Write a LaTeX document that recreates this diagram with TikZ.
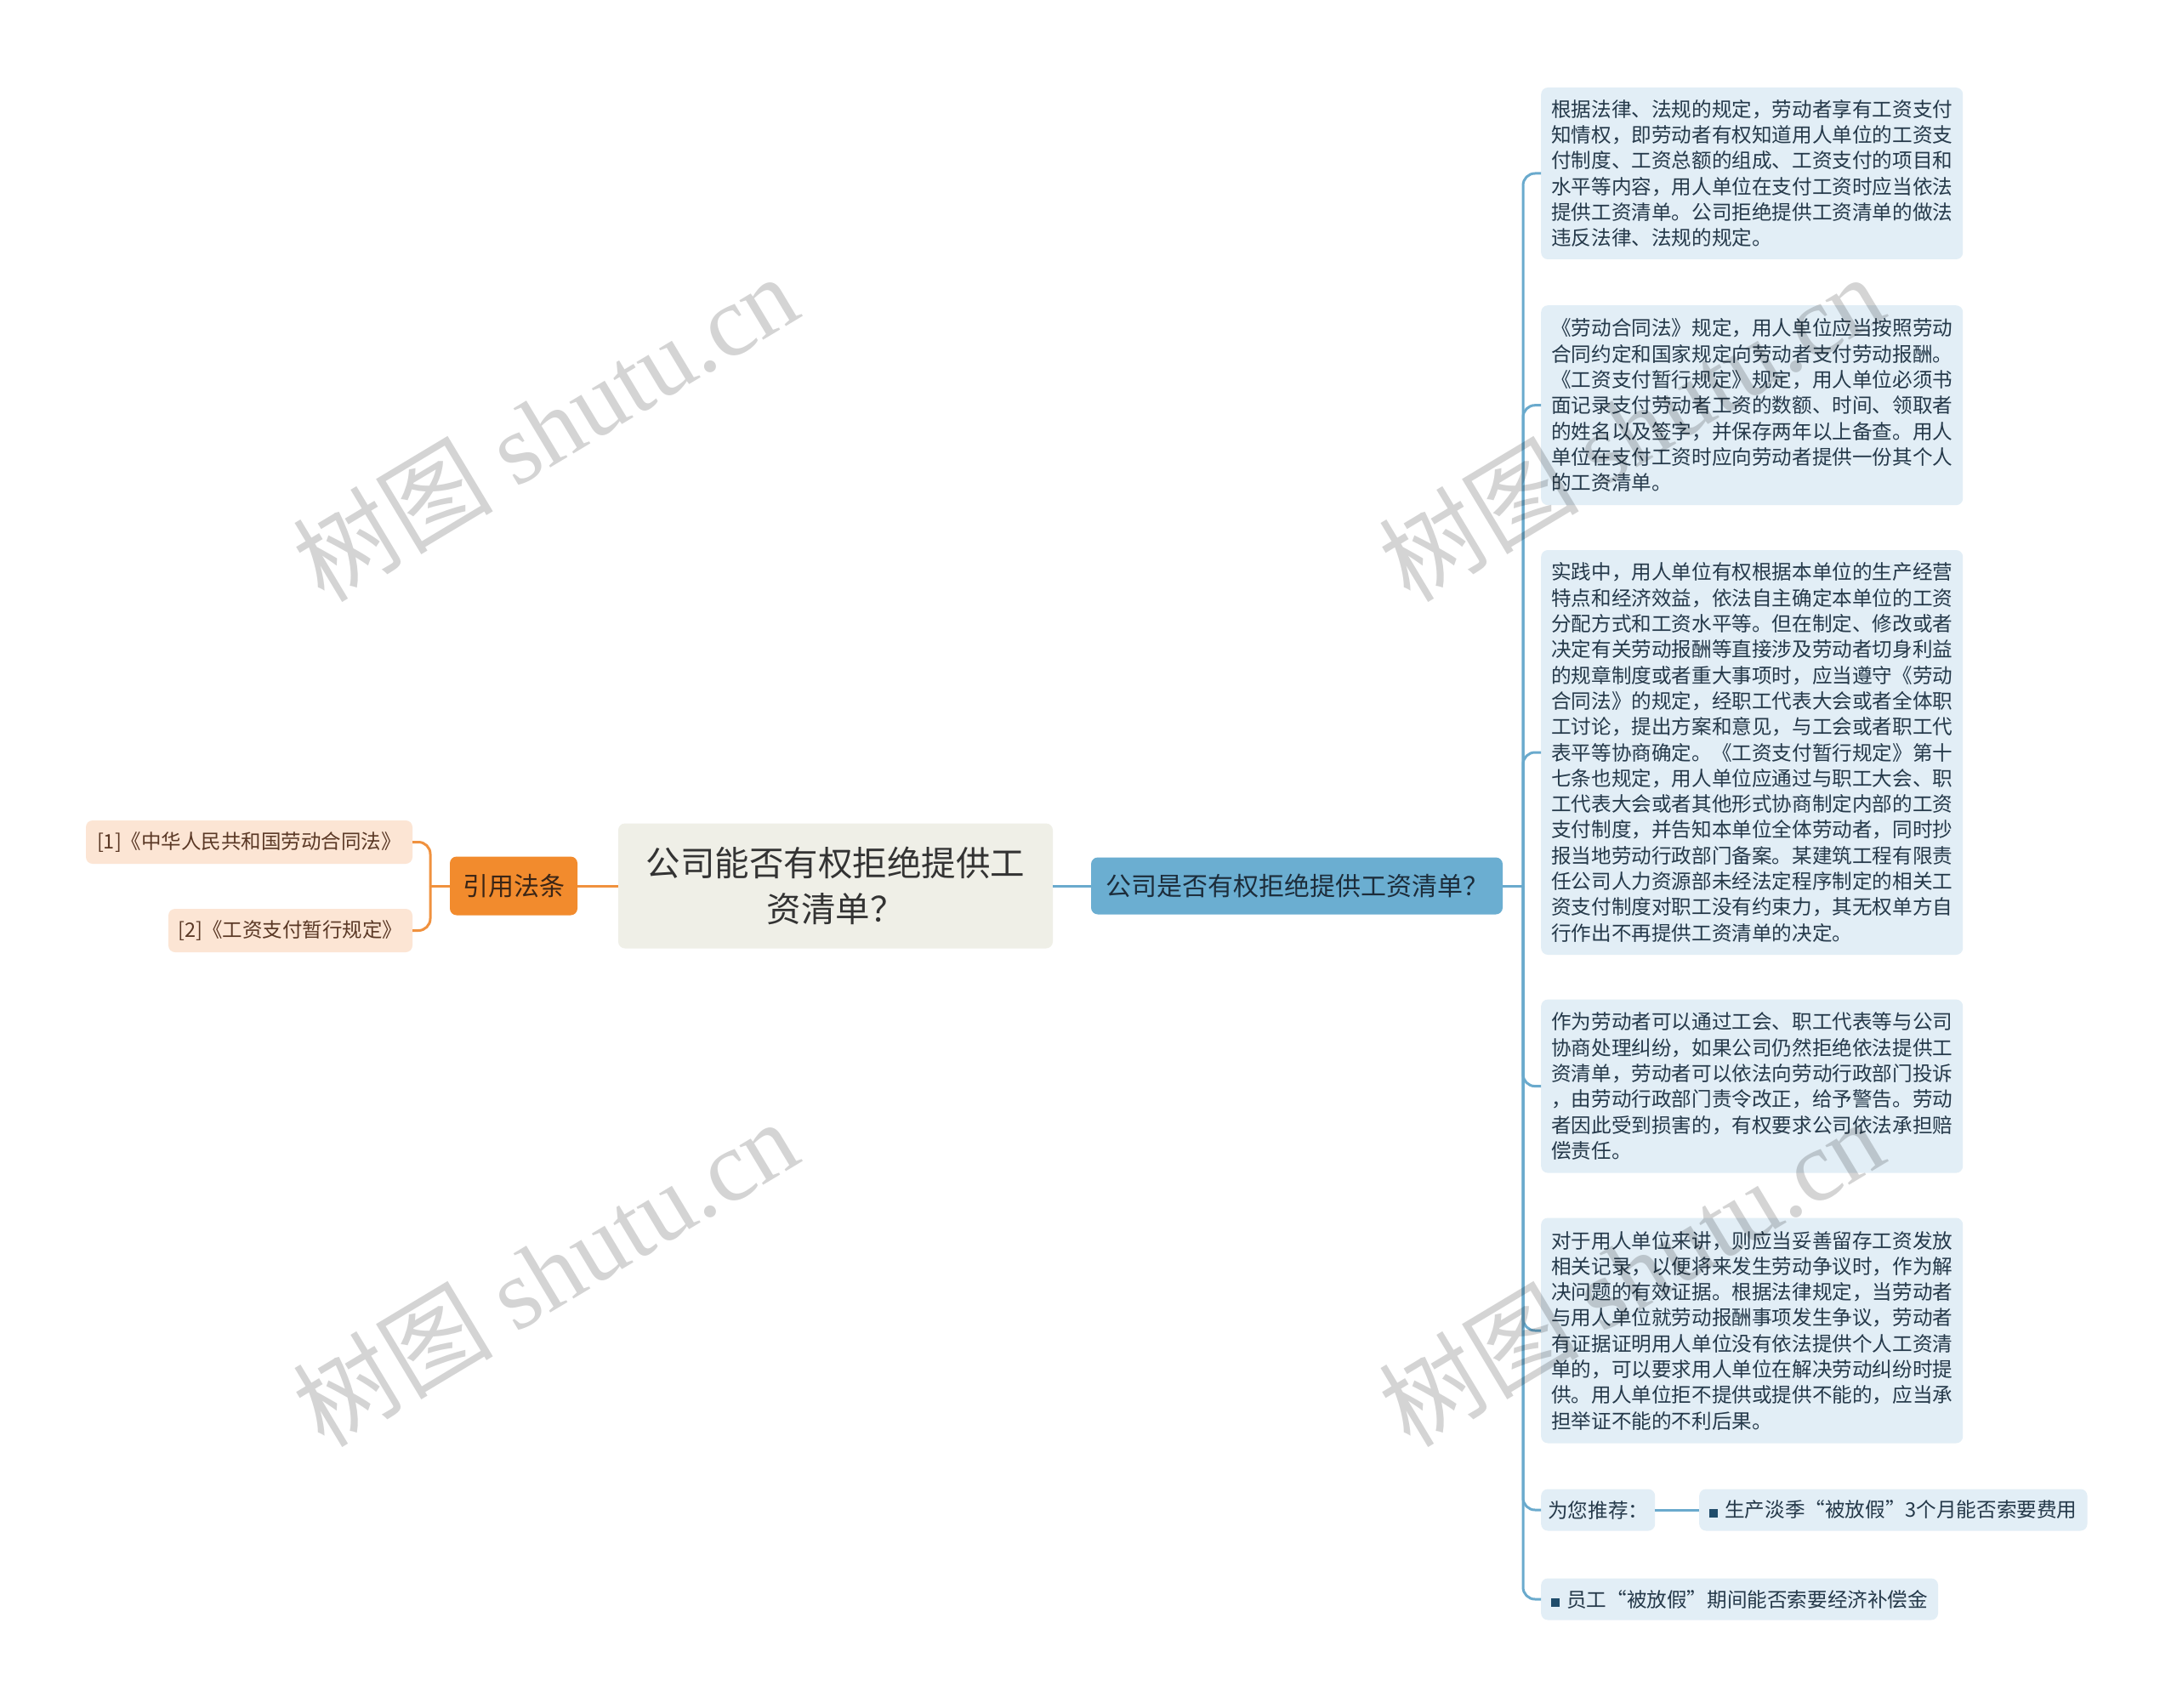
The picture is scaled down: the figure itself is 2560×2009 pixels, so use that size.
\documentclass[tikz,border=0pt]{standalone}
\usepackage{fontspec}
\setmainfont{Noto Sans CJK SC}
\newfontfamily\wmserif{Liberation Serif}
\definecolor{leafblue}{HTML}{E2EEF6}
\definecolor{leaftext}{HTML}{25394A}
\definecolor{nodeblue}{HTML}{6BAED1}
\definecolor{linkblue}{HTML}{6AAACD}
\definecolor{bluetext}{HTML}{1C2C3A}
\definecolor{centerfill}{HTML}{EFEFE7}
\definecolor{centertext}{HTML}{333333}
\definecolor{orangefill}{HTML}{F28B2D}
\definecolor{orangetext}{HTML}{3A2516}
\definecolor{peach}{HTML}{FCE5D4}
\definecolor{peachtext}{HTML}{5A3825}
\definecolor{linkorange}{HTML}{F0913E}
\definecolor{bulc}{HTML}{1F4C6B}
\newcommand{\bul}{\textcolor{bulc}{\rule{10pt}{10pt}}\hspace{8pt}}
\begin{document}
\begin{tikzpicture}[x=1pt,y=-1pt]
\tikzset{
  rbox/.style={fill=leafblue, rounded corners=8pt, align=left, text=leaftext,
    font=\fontsize{23.6pt}{30.3pt}\selectfont, inner xsep=12pt, inner ysep=0pt, anchor=west},
  bline/.style={draw=linkblue, line width=3pt, rounded corners=14pt},
  oline/.style={draw=linkorange, line width=3pt, rounded corners=14pt},
  pbox/.style={fill=peach, rounded corners=8pt, text=peachtext, minimum height=51pt,
    font=\fontsize{23.5pt}{28pt}\selectfont, inner xsep=0pt},
  wm/.style={text=black, opacity=0.17, rotate=31, font=\fontsize{118pt}{130pt}\selectfont}
}
\useasboundingbox (0,0) rectangle (2560,2009);
\fill[white] (0,0) rectangle (2560,2009);

% central
\node[fill=centerfill, rounded corners=8pt, minimum width=511pt, minimum height=147pt,
  align=center, font=\fontsize{40.5pt}{54pt}\selectfont, text=centertext] (c) at (982.5,1042)
  {公司能否有权拒绝提供工\\资清单？};

% left branch
\node[fill=orangefill, rounded corners=8pt, minimum width=150pt, minimum height=69pt,
  font=\fontsize{30pt}{36pt}\selectfont, text=orangetext, inner xsep=0pt] (y) at (604,1042) {引用法条};
\node[pbox, minimum width=384pt] (l1) at (293,990.5) {[1]《中华人民共和国劳动合同法》};
\node[pbox, minimum width=287pt] (l2) at (341.5,1094.5) {[2]《工资支付暂行规定》};

% right branch
\node[fill=nodeblue, rounded corners=8pt, minimum width=484pt, minimum height=67pt,
  font=\fontsize{30pt}{36pt}\selectfont, text=bluetext, inner xsep=0pt] (q) at (1525,1042) {公司是否有权拒绝提供工资清单？};

\node[rbox, minimum height=202pt] (b1) at (1812,204) {根据法律、法规的规定，劳动者享有工资支付\\
知情权，即劳动者有权知道用人单位的工资支\\
付制度、工资总额的组成、工资支付的项目和\\
水平等内容，用人单位在支付工资时应当依法\\
提供工资清单。公司拒绝提供工资清单的做法\\
违反法律、法规的规定。};

\node[rbox, minimum height=235pt] (b2) at (1812,476.7) {《劳动合同法》规定，用人单位应当按照劳动\\
合同约定和国家规定向劳动者支付劳动报酬。\\
《工资支付暂行规定》规定，用人单位必须书\\
面记录支付劳动者工资的数额、时间、领取者\\
的姓名以及签字，并保存两年以上备查。用人\\
单位在支付工资时应向劳动者提供一份其个人\\
的工资清单。};

\node[rbox, minimum height=476pt] (b3) at (1812,885) {实践中，用人单位有权根据本单位的生产经营\\
特点和经济效益，依法自主确定本单位的工资\\
分配方式和工资水平等。但在制定、修改或者\\
决定有关劳动报酬等直接涉及劳动者切身利益\\
的规章制度或者重大事项时，应当遵守《劳动\\
合同法》的规定，经职工代表大会或者全体职\\
工讨论，提出方案和意见，与工会或者职工代\\
表平等协商确定。《工资支付暂行规定》第十\\
七条也规定，用人单位应通过与职工大会、职\\
工代表大会或者其他形式协商制定内部的工资\\
支付制度，并告知本单位全体劳动者，同时抄\\
报当地劳动行政部门备案。某建筑工程有限责\\
任公司人力资源部未经法定程序制定的相关工\\
资支付制度对职工没有约束力，其无权单方自\\
行作出不再提供工资清单的决定。};

\node[rbox, minimum height=204pt] (b4) at (1812,1277.6) {作为劳动者可以通过工会、职工代表等与公司\\
协商处理纠纷，如果公司仍然拒绝依法提供工\\
资清单，劳动者可以依法向劳动行政部门投诉\\
，由劳动行政部门责令改正，给予警告。劳动\\
者因此受到损害的，有权要求公司依法承担赔\\
偿责任。};

\node[rbox, minimum height=265pt] (b5) at (1812,1565) {对于用人单位来讲，则应当妥善留存工资发放\\
相关记录，以便将来发生劳动争议时，作为解\\
决问题的有效证据。根据法律规定，当劳动者\\
与用人单位就劳动报酬事项发生争议，劳动者\\
有证据证明用人单位没有依法提供个人工资清\\
单的，可以要求用人单位在解决劳动纠纷时提\\
供。用人单位拒不提供或提供不能的，应当承\\
担举证不能的不利后果。};

\node[rbox, minimum height=49pt, inner xsep=8pt] (b6) at (1812,1776) {为您推荐：};
\node[rbox, minimum height=49pt] (b6a) at (1998,1776) {\bul 生产淡季“被放假”3个月能否索要费用};
\node[rbox, minimum height=49pt] (b7) at (1812,1881) {\bul 员工“被放假”期间能否索要经济补偿金};

% connectors
\coordinate (jL) at (506,1042);
\coordinate (jR) at (1791,1042);
\draw[oline] (c.west) -- (y.east);
\draw[oline] (y.west) -- (jL);
\draw[oline] (jL) |- (l1.east);
\draw[oline] (jL) |- (l2.east);
\draw[bline] (c.east) -- (q.west);
\draw[bline] (q.east) -- (jR);
\foreach \b in {b1,b2,b3,b4,b5,b6,b7} \draw[bline] (jR) |- (\b.west);
\draw[bline] (b6.east) -- (b6a.west);

% watermarks
\node[wm] (w1) at (641,502) {树图 {\wmserif shutu.cn}};
\node[wm] (w2) at (1918,502) {树图 {\wmserif shutu.cn}};
\node[wm] (w3) at (641,1496) {树图 {\wmserif shutu.cn}};
\node[wm] (w4) at (1918,1496) {树图 {\wmserif shutu.cn}};
\end{tikzpicture}
\end{document}
